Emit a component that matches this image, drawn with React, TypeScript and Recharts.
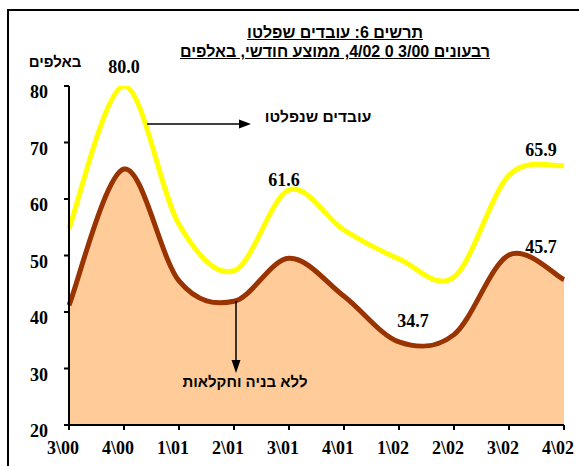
import { ComposedChart, Line, Area, XAxis, YAxis, LabelList } from 'recharts';

const quarters = ['3\\00', '4\\00', '1\\01', '2\\01', '3\\01', '4\\01', '1\\02', '2\\02', '3\\02', '4\\02'];
// עובדים שנפלטו
const dismissed = [54.8, 80.0, 55.5, 47.3, 61.6, 54.5, 49.4, 46.2, 64.2, 65.9];
// ללא בניה וחקלאות
const dismissedExcl = [41.2, 65.3, 45.5, 41.9, 49.5, 42.8, 34.7, 36.0, 50.1, 45.7];
const yTicks = [20, 30, 40, 50, 60, 70, 80];

// which points get a value label, and where (px offsets from the point)
const dismissedLabels: Record<number, [number, number]> = { 1: [0, -13], 4: [-5, -4], 9: [-23, -10] };
const exclLabels: Record<number, [number, number]> = { 6: [14, -15], 9: [-23, -27] };

const data = quarters.map((q, i) => ({ q, total: dismissed[i], excl: dismissedExcl[i] }));

// Excel-like smoothing (catmull-rom style bezier through the points), works for lines and areas
const excelCurve = (context: any) => {
  let pts: number[][] = [];
  let line = NaN;
  return {
    areaStart() {
      line = 0;
    },
    areaEnd() {
      line = NaN;
    },
    lineStart() {
      pts = [];
    },
    point(x: number, y: number) {
      pts.push([+x, +y]);
    },
    lineEnd() {
      const n = pts.length;
      if (n) {
        if (line) context.lineTo(pts[0][0], pts[0][1]);
        else context.moveTo(pts[0][0], pts[0][1]);
        for (let i = 0; i < n - 1; i++) {
          const p0 = pts[Math.max(0, i - 1)];
          const p1 = pts[i];
          const p2 = pts[i + 1];
          const p3 = pts[Math.min(n - 1, i + 2)];
          context.bezierCurveTo(
            p1[0] + (p2[0] - p0[0]) / 6,
            p1[1] + (p2[1] - p0[1]) / 6,
            p2[0] - (p3[0] - p1[0]) / 6,
            p2[1] - (p3[1] - p1[1]) / 6,
            p2[0],
            p2[1]
          );
        }
      }
      if (line) context.closePath();
      line = 1 - line;
    },
  };
};

const serif = '"Liberation Serif", "Times New Roman", serif';
const hebrew = '"Liberation Sans", Arial, sans-serif';

const valueLabel = (spots: Record<number, [number, number]>) => (props: any) => {
  const { x, y, value, index } = props;
  const spot = spots[index];
  if (!spot) return null;
  return (
    <text x={x + spot[0]} y={y + spot[1]} textAnchor="middle" fontFamily={serif} fontWeight="bold" fontSize={18} fill="#000">
      {Number(value).toFixed(1)}
    </text>
  );
};

const XTick = (props: any) => (
  <text x={props.x - 6} y={props.y + 22} textAnchor="middle" fontFamily={serif} fontWeight="bold" fontSize={18} fill="#000">
    {props.payload.value}
  </text>
);

const YTick = (props: any) => (
  <text x={props.x} y={props.y + 12} textAnchor="end" fontFamily={serif} fontWeight="bold" fontSize={18} fill="#000">
    {props.payload.value}
  </text>
);

const note = { position: 'absolute' as const, textAlign: 'center' as const, fontFamily: hebrew, fontWeight: 'bold', whiteSpace: 'nowrap' as const };

export default function App() {
  return (
    <div style={{ position: 'absolute', left: 0, top: 0, width: 579, height: 466, background: '#fff', overflow: 'hidden' }}>
      <div style={{ position: 'absolute', left: 7, top: 9, right: 0, bottom: 0, borderTop: '2px solid #000', borderLeft: '2px solid #000' }} />
      <ComposedChart width={579} height={466} data={data} margin={{ top: 86, right: 15, bottom: 11, left: 0 }}>
        <XAxis
          dataKey="q"
          scale="point"
          padding={{ left: 0, right: 0 }}
          axisLine={{ stroke: '#000', strokeWidth: 2 }}
          tickLine={{ stroke: '#000', strokeWidth: 2 }}
          tickSize={5}
          tick={<XTick />}
          height={30}
          interval={0}
        />
        <YAxis
          domain={[20, 80]}
          ticks={yTicks}
          width={69}
          axisLine={{ stroke: '#000', strokeWidth: 2 }}
          tickLine={{ stroke: '#000', strokeWidth: 2 }}
          tickSize={5}
          tickMargin={16}
          tick={<YTick />}
          allowDataOverflow
        />
        <Area type={excelCurve as any} dataKey="excl" fill="#FFCC99" fillOpacity={1} stroke="none" isAnimationActive={false} />
        <Line type={excelCurve as any} dataKey="total" stroke="#FFFF00" strokeWidth={5} dot={false} isAnimationActive={false}>
          <LabelList dataKey="total" content={valueLabel(dismissedLabels)} />
        </Line>
        <Line type={excelCurve as any} dataKey="excl" stroke="#993300" strokeWidth={5} dot={false} isAnimationActive={false}>
          <LabelList dataKey="excl" content={valueLabel(exclLabels)} />
        </Line>
      </ComposedChart>

      <div dir="rtl" style={{ ...note, left: 135, top: 23, width: 400, fontSize: 16, lineHeight: '19px' }}>
        <div><span style={{ textDecoration: 'underline' }}>תרשים 6: עובדים שפלטו</span></div>
        <div><span style={{ textDecoration: 'underline' }}>רבעונים 3/00 0 4/02, ממוצע חודשי, באלפים</span></div>
      </div>
      <div dir="rtl" style={{ ...note, left: 15, top: 53, width: 80, fontSize: 15 }}>
        באלפים
      </div>
      <div dir="rtl" style={{ ...note, left: 248, top: 108, width: 140, fontSize: 15.5 }}>
        עובדים שנפלטו
      </div>
      <div dir="rtl" style={{ ...note, left: 165, top: 373, width: 160, fontSize: 15 }}>
        ללא בניה וחקלאות
      </div>

      <svg width={579} height={466} style={{ position: 'absolute', left: 0, top: 0, pointerEvents: 'none' }}>
        <line x1={147} y1={124} x2={241} y2={124} stroke="#000" strokeWidth={1.5} />
        <polygon points="251,124 239,119.5 239,128.5" fill="#000" />
        <line x1={236} y1={301} x2={236} y2={362} stroke="#000" strokeWidth={1.5} />
        <polygon points="236,373 231.5,360 240.5,360" fill="#000" />
      </svg>
    </div>
  );
}
